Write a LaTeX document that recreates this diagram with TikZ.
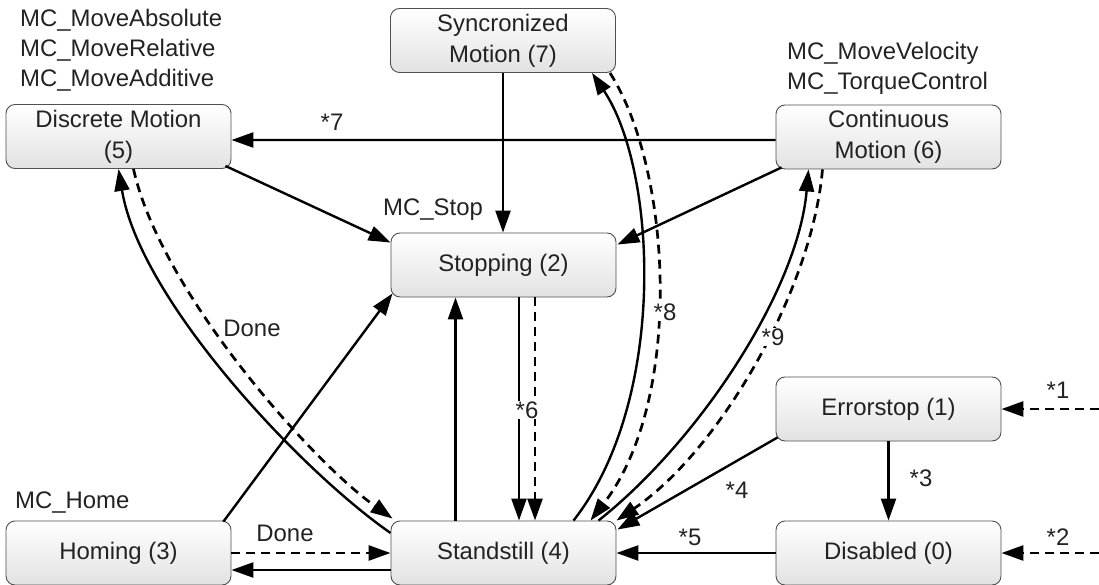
\documentclass[tikz,border=0pt]{standalone}
\usepackage{fontspec}
\setmainfont{Liberation Sans}
\usetikzlibrary{arrows.meta,calc}
\definecolor{txt}{HTML}{222222}
\definecolor{bord}{HTML}{505050}
\definecolor{boxbot}{HTML}{E2E2E2}
\newcommand{\lbl}{\fontsize{24pt}{31pt}\selectfont}
\tikzset{
 state/.style={draw=bord, line width=0.9bp, rounded corners=9bp, minimum width=225bp, minimum height=64bp, inner sep=0pt, top color=white, bottom color=boxbot, text=txt, align=center, font=\lbl},
 conn/.style={line width=2.4bp, draw=black, -{Triangle[length=22bp,width=15bp]}},
 dsh/.style={conn, line width=2.7bp, dash pattern=on 9bp off 6bp},
 lab/.style={text=txt, font=\lbl, inner sep=1bp},
}
\begin{document}
\begin{tikzpicture}[x=1bp,y=-1bp]
\useasboundingbox (0,0) rectangle (1099,585);
% states
\node[state] (D5) at (118.5,136.5) {Discrete Motion\\(5)};
\node[state] (S7) at (503,40.5) {Syncronized\\Motion (7)};
\node[state] (C6) at (888.5,137) {Continuous\\Motion (6)};
\node[state] (St2) at (503.5,265) {Stopping (2)};
\node[state] (E1) at (888.5,409) {Errorstop (1)};
\node[state] (Dis0) at (888.5,553) {Disabled (0)};
\node[state] (H3) at (118.5,553) {Homing (3)};
\node[state] (SS4) at (503.5,553) {Standstill (4)};
% function block labels
\node[lab, anchor=west] (lMA) at (19,20) {MC\_MoveAbsolute};
\node[lab, anchor=west] (lMR) at (19,50) {MC\_MoveRelative};
\node[lab, anchor=west] (lMAd) at (19,80) {MC\_MoveAdditive};
\node[lab, anchor=west] (lMV) at (786,53) {MC\_MoveVelocity};
\node[lab, anchor=west] (lTC) at (786,83) {MC\_TorqueControl};
\node[lab, anchor=west] (lStop) at (382,210) {MC\_Stop};
\node[lab, anchor=west] (lHome) at (14,503) {MC\_Home};
% connectors
\draw[conn] ([shift={(0,3)}]C6.west) -- ([shift={(0,3.5)}]D5.east);
\node[lab] (l7) at (332,122) {*7};
\draw[conn] ([shift={(-6,-3)}]D5.south east) -- ([shift={(0,10)}]St2.north west);
\draw[conn] (S7.south) -- (S7.south |- St2.north);
\draw[conn] ([shift={(6,-2)}]C6.south west) -- ([shift={(1,12)}]St2.north east);
\draw[conn] ([shift={(-48,0)}]SS4.north) -- ([shift={(-48,0)}]St2.south);
\draw[conn] ([shift={(-8,1)}]H3.north east) -- ([shift={(2,-4)}]St2.south west);
\draw[conn] ([shift={(15.5,0)}]St2.south) -- ([shift={(15.5,0)}]SS4.north);
\draw[dsh] ([shift={(31.5,0)}]St2.south) -- ([shift={(31.5,0)}]SS4.north);
\node[lab, fill=white] (l6) at (527,410) {*6};
% discrete motion loop
\draw[conn] ([shift={(0,-20)}]SS4.west) .. controls (300,470) and (140,300) .. (D5.south);
\draw[dsh] ([shift={(15,0)}]D5.south) .. controls (160,290) and (310,460) .. ([shift={(2,-2)}]SS4.north west);
\node[lab] (lDone1) at (252,328) {Done};
% synchronized loop
\draw[conn] ([shift={(70,0)}]SS4.north) .. controls (668,400) and (657,170) .. ([shift={(89,0)}]S7.south);
\draw[dsh] ([shift={(107,0)}]S7.south) .. controls (672,170) and (684,400) .. ([shift={(87,0)}]SS4.north);
\node[lab, fill=white] (l8) at (665,312) {*8};
% continuous loop
\draw[conn] ([shift={(95,0)}]SS4.north) .. controls (700,440) and (798,290) .. ([shift={(-80,0)}]C6.south);
\draw[dsh] ([shift={(-66,0)}]C6.south) .. controls (812,290) and (720,450) .. (SS4.north east);
\node[lab, fill=white] (l9) at (773,337) {*9};
% errorstop / disabled
\draw[conn] ([shift={(2,-4)}]E1.south west) -- ([shift={(1,9)}]SS4.north east);
\node[lab] (l4) at (737,490) {*4};
\draw[conn] (Dis0.west) -- (SS4.east);
\node[lab] (l5) at (690,537) {*5};
\draw[conn] (E1.south) -- (Dis0.north);
\node[lab] (l3) at (921,478) {*3};
\coordinate (ext1) at (1099,409);
\coordinate (ext2) at (1099,553);
\draw[dsh] (ext1) -- (E1.east);
\draw[dsh] (ext2) -- (Dis0.east);
\node[lab] (l1) at (1058,390) {*1};
\node[lab] (l2) at (1058,537) {*2};
% homing
\draw[dsh] (H3.east) -- (SS4.west);
\draw[conn] ([shift={(0,17)}]SS4.west) -- ([shift={(0,17)}]H3.east);
\node[lab] (lDone2) at (285,533) {Done};
\end{tikzpicture}
\end{document}
